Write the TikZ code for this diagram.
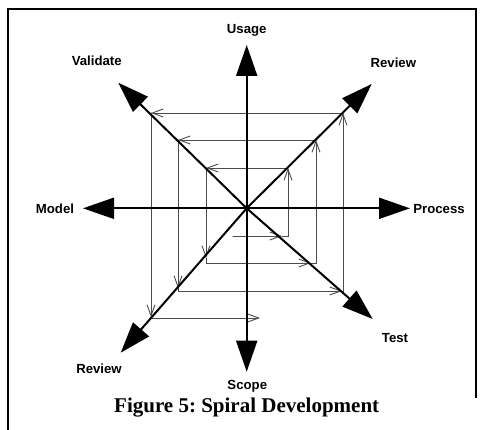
\documentclass[tikz,border=0pt]{standalone}
\usepackage{fontspec}
\setmainfont{Liberation Serif}
\newfontfamily\labfont{Liberation Sans}
\usetikzlibrary{arrows.meta}
\frenchspacing
\begin{document}
\begin{tikzpicture}[x=1pt,y=-1pt,
  frame/.style={line width=2pt},
  axis/.style={line width=2pt,-{Triangle[length=31pt,width=21pt]}},
  sp/.style={draw=black!70,line width=0.9pt,line cap=round},
  spa/.style={sp,-{Straight Barb[length=11pt,width=8pt]}},
  lab/.style={font=\labfont\bfseries\fontsize{13.2}{15}\selectfont,inner sep=0pt},
  capt/.style={font=\bfseries\fontsize{21}{24}\selectfont,inner sep=0pt}
]
\useasboundingbox (0,0) rectangle (480,430);
% frame
\coordinate (f1) at (7.5,430);
\coordinate (f2) at (7.5,9.5);
\coordinate (f3) at (476,9.5);
\coordinate (f4) at (476,398);
\draw[frame] (f1) -- (f2) -- (f3) -- (f4);
% spiral
\coordinate (s0) at (233,236);
\coordinate (a1) at (282,236);
\coordinate (c1) at (288,236);
\coordinate (c2) at (288,168);
\coordinate (c3) at (206,168);
\coordinate (a4) at (206,258);
\coordinate (c4) at (206,263);
\coordinate (a5) at (311,263);
\coordinate (c5) at (316,263);
\coordinate (c6) at (316,140);
\coordinate (c7) at (178,140);
\coordinate (a8) at (178,288);
\coordinate (c8) at (178,291);
\coordinate (a9) at (342,291);
\coordinate (c9) at (343,291);
\coordinate (c10) at (343,113);
\coordinate (c11) at (151,113);
\coordinate (a12) at (151,317);
\coordinate (c12) at (151,318);
\coordinate (e) at (260,318);
\draw[spa] (s0) -- (a1);
\draw[spa] (a1) -- (c1) -- (c2);
\draw[spa] (c2) -- (c3);
\draw[spa] (c3) -- (a4);
\draw[spa] (a4) -- (c4) -- (a5);
\draw[spa] (a5) -- (c5) -- (c6);
\draw[spa] (c6) -- (c7);
\draw[spa] (c7) -- (a8);
\draw[spa] (a8) -- (c8) -- (a9);
\draw[spa] (a9) -- (c9) -- (c10);
\draw[spa] (c10) -- (c11);
\draw[spa] (c11) -- (a12);
\draw[spa] (a12) -- (c12) -- (e);
% axes
\coordinate (C) at (246.7,208.3);
\coordinate (U) at (246.7,45);
\coordinate (S) at (246.7,371.7);
\coordinate (M) at (83,208.3);
\coordinate (P) at (410,208.3);
\coordinate (NW) at (118.3,82.7);
\coordinate (NE) at (371.7,84);
\coordinate (SE) at (372.7,319);
\coordinate (SW) at (120.7,352.7);
\foreach \t in {U,S,M,P,NW,NE,SE,SW} \draw[axis] (C) -- (\t);
% labels
\node[lab] (lU) at (246.7,30.7) {Usage};
\node[lab] (lV) at (96.7,60.7) {Validate};
\node[lab] (lR1) at (393.3,62.7) {Review};
\node[lab] (lM) at (55,209) {Model};
\node[lab] (lP) at (439,209) {Process};
\node[lab] (lT) at (395,337.7) {Test};
\node[lab] (lR2) at (99,368.3) {Review};
\node[lab] (lS) at (247.3,386.7) {Scope};
\node[capt] (cap) at (246.7,407.3) {Figure 5: Spiral Development};
\end{tikzpicture}
\end{document}
